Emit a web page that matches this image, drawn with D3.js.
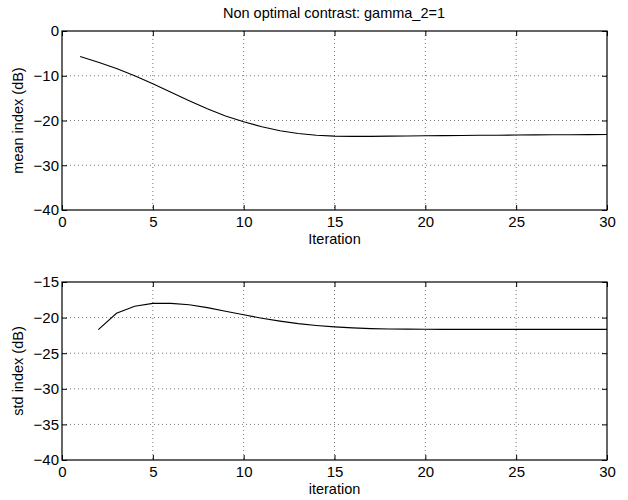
<!DOCTYPE html>
<html><head><meta charset="utf-8">
<script src="https://cdn.jsdelivr.net/npm/d3@7"></script>
<style>body{margin:0;background:#fff}svg{display:block}text{font-family:"Liberation Sans",Arial,sans-serif;fill:#000}</style>
</head><body><svg id="c" width="628" height="500"></svg>
<script>
const title = "Non optimal contrast: gamma_2=1";
const meanIter = [1,2,3,4,5,6,7,8,9,10,11,12,13,14,15,16,17,18,19,20,21,22,23,24,25,26,27,28,29,30];
const meanVals = [-5.7,-7.0,-8.4,-10.0,-11.8,-13.7,-15.6,-17.4,-19.0,-20.3,-21.4,-22.3,-22.9,-23.3,-23.5,-23.55,-23.55,-23.5,-23.45,-23.4,-23.38,-23.35,-23.3,-23.28,-23.25,-23.22,-23.2,-23.18,-23.15,-23.12];
const stdIter = [2,3,4,5,6,7,8,9,10,11,12,13,14,15,16,17,18,19,20,21,22,23,24,25,26,27,28,29,30];
const stdVals = [-21.7,-19.4,-18.4,-18.0,-18.0,-18.2,-18.6,-19.1,-19.6,-20.1,-20.5,-20.85,-21.1,-21.3,-21.45,-21.55,-21.6,-21.62,-21.64,-21.65,-21.65,-21.65,-21.65,-21.65,-21.65,-21.65,-21.65,-21.65,-21.65];
const xTicks = [0,5,10,15,20,25,30];
const meanTicks = [0,-10,-20,-30,-40];
const stdTicks = [-15,-20,-25,-30,-35,-40];

const svg = d3.select("#c");
const L = 62, R = 607;

function panel(top, bottom, ydom, yticks, xs, ys, ylabel, xlabel) {
  const x = d3.scaleLinear().domain([0,30]).range([L,R]);
  const y = d3.scaleLinear().domain(ydom).range([bottom, top]);
  const g = svg.append("g");
  g.selectAll(".gx").data(xTicks.filter(t=>t>0&&t<30)).join("line")
    .attr("x1",d=>x(d)).attr("x2",d=>x(d)).attr("y1",top).attr("y2",bottom)
    .attr("stroke","#555").attr("stroke-width",0.8).attr("stroke-dasharray","1,3");
  g.selectAll(".gy").data(yticks.filter(t=>t>ydom[0]&&t<ydom[1])).join("line")
    .attr("x1",L).attr("x2",R).attr("y1",d=>y(d)).attr("y2",d=>y(d))
    .attr("stroke","#555").attr("stroke-width",0.8).attr("stroke-dasharray","1,3");
  const ax = g.append("g").attr("transform",`translate(0,${bottom})`)
    .call(d3.axisBottom(x).tickValues(xTicks).tickSize(-5).tickPadding(6).tickFormat(d3.format("d")));
  const ay = g.append("g").attr("transform",`translate(${L},0)`)
    .call(d3.axisLeft(y).tickValues(yticks).tickSize(-5).tickPadding(3).tickFormat(d=>d<0?"\u2212"+Math.abs(d):d));
  const axT = g.append("g").attr("transform",`translate(0,${top})`)
    .call(d3.axisTop(x).tickValues(xTicks).tickSize(-5).tickFormat(""));
  const ayR = g.append("g").attr("transform",`translate(${R},0)`)
    .call(d3.axisRight(y).tickValues(yticks).tickSize(-5).tickFormat(""));
  [ax,ay,axT,ayR].forEach(a=>{a.select(".domain").remove();a.selectAll("line").attr("stroke","#000");
    a.selectAll("text").style("font-size","15px").style("font-family","Liberation Sans, Arial, sans-serif");});
  g.append("rect").attr("x",L).attr("y",top).attr("width",R-L).attr("height",bottom-top)
    .attr("fill","none").attr("stroke","#000").attr("stroke-width",1.2);
  const line = d3.line().x((d,i)=>x(xs[i])).y(d=>y(d));
  g.append("path").datum(ys).attr("d",line).attr("fill","none").attr("stroke","#000").attr("stroke-width",1.1);
  g.append("text").attr("x",(L+R)/2).attr("y",bottom+34).attr("text-anchor","middle").style("font-size","14.5px").text(xlabel);
  g.append("text").attr("transform",`translate(23,${(top+bottom)/2}) rotate(-90)`).attr("text-anchor","middle").style("font-size","14.5px").text(ylabel);
}
svg.append("text").attr("x",334).attr("y",18).attr("text-anchor","middle").style("font-size","14.5px").text(title);
panel(31,210,[-40,0],meanTicks,meanIter,meanVals,"mean index (dB)","Iteration");
panel(282,460,[-40,-15],stdTicks,stdIter,stdVals,"std index (dB)","iteration");
</script></body></html>
